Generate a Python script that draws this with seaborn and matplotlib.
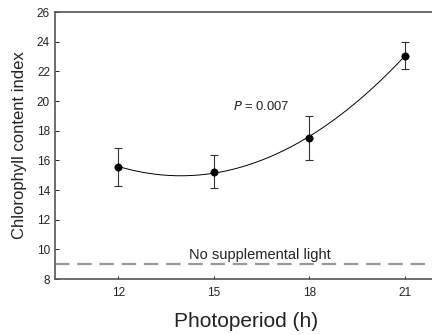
import numpy as np
import pandas as pd
import matplotlib
matplotlib.use("Agg")
import matplotlib.pyplot as plt
import seaborn as sns

photoperiod = [12, 15, 18, 21]
chlorophyll = [15.55, 15.25, 17.5, 23.05]
errors = [1.3, 1.1, 1.5, 0.9]
control_level = 9.0
xticks = [12, 15, 18, 21]
yticks = [8, 10, 12, 14, 16, 18, 20, 22, 24, 26]

sns.set_theme(style="ticks")
plt.rcParams['font.family'] = ['Liberation Sans', 'DejaVu Sans']

df = pd.DataFrame({"Photoperiod": photoperiod, "Chl": chlorophyll, "err": errors})

fig = plt.figure(figsize=(4.32, 3.35), dpi=100)
ax = fig.add_axes([0.127, 0.167, 0.883, 0.797])

# quadratic fit
coef = np.polyfit(df["Photoperiod"], df["Chl"], 2)
xs = np.linspace(min(photoperiod), max(photoperiod), 200)
fit = pd.DataFrame({"x": xs, "y": np.polyval(coef, xs)})
sns.lineplot(data=fit, x="x", y="y", ax=ax, color="black", linewidth=0.7)

ax.errorbar(df["Photoperiod"], df["Chl"], yerr=df["err"], fmt="none",
            ecolor="#333333", elinewidth=0.8, capsize=3, capthick=0.8)
sns.scatterplot(data=df, x="Photoperiod", y="Chl", ax=ax, color="black",
                s=28, edgecolor="black", zorder=5)

ax.axhline(control_level, color="#999999", linewidth=1.6, dashes=(6.5, 3.5))
ax.text(16.45, control_level + 0.12, "No supplemental light", ha="center",
        va="bottom", fontsize=10.5, color="#222222")
ax.text(15.6, 19.65, "$\\it{P}$ = 0.007", ha="left", va="center", fontsize=9.4,
        color="#222222")

ax.set_xlim(10, 22)
ax.set_ylim(8, 26)
ax.set_xticks(xticks)
ax.set_yticks(yticks)
ax.tick_params(direction="in", length=3, width=0.7, labelsize=8.5, colors="#222222")
ax.tick_params(axis="x", length=2.5, pad=6)
for s in ["left", "bottom", "top"]:
    ax.spines[s].set_linewidth(1.2)
    ax.spines[s].set_color("#555555")
ax.spines["right"].set_visible(False)
ax.set_xlabel("Photoperiod (h)", fontsize=15, color="#222222", labelpad=9)
ax.set_ylabel("Chlorophyll content index", fontsize=12, color="#222222", labelpad=7)

fig.savefig("out.png", dpi=100)
